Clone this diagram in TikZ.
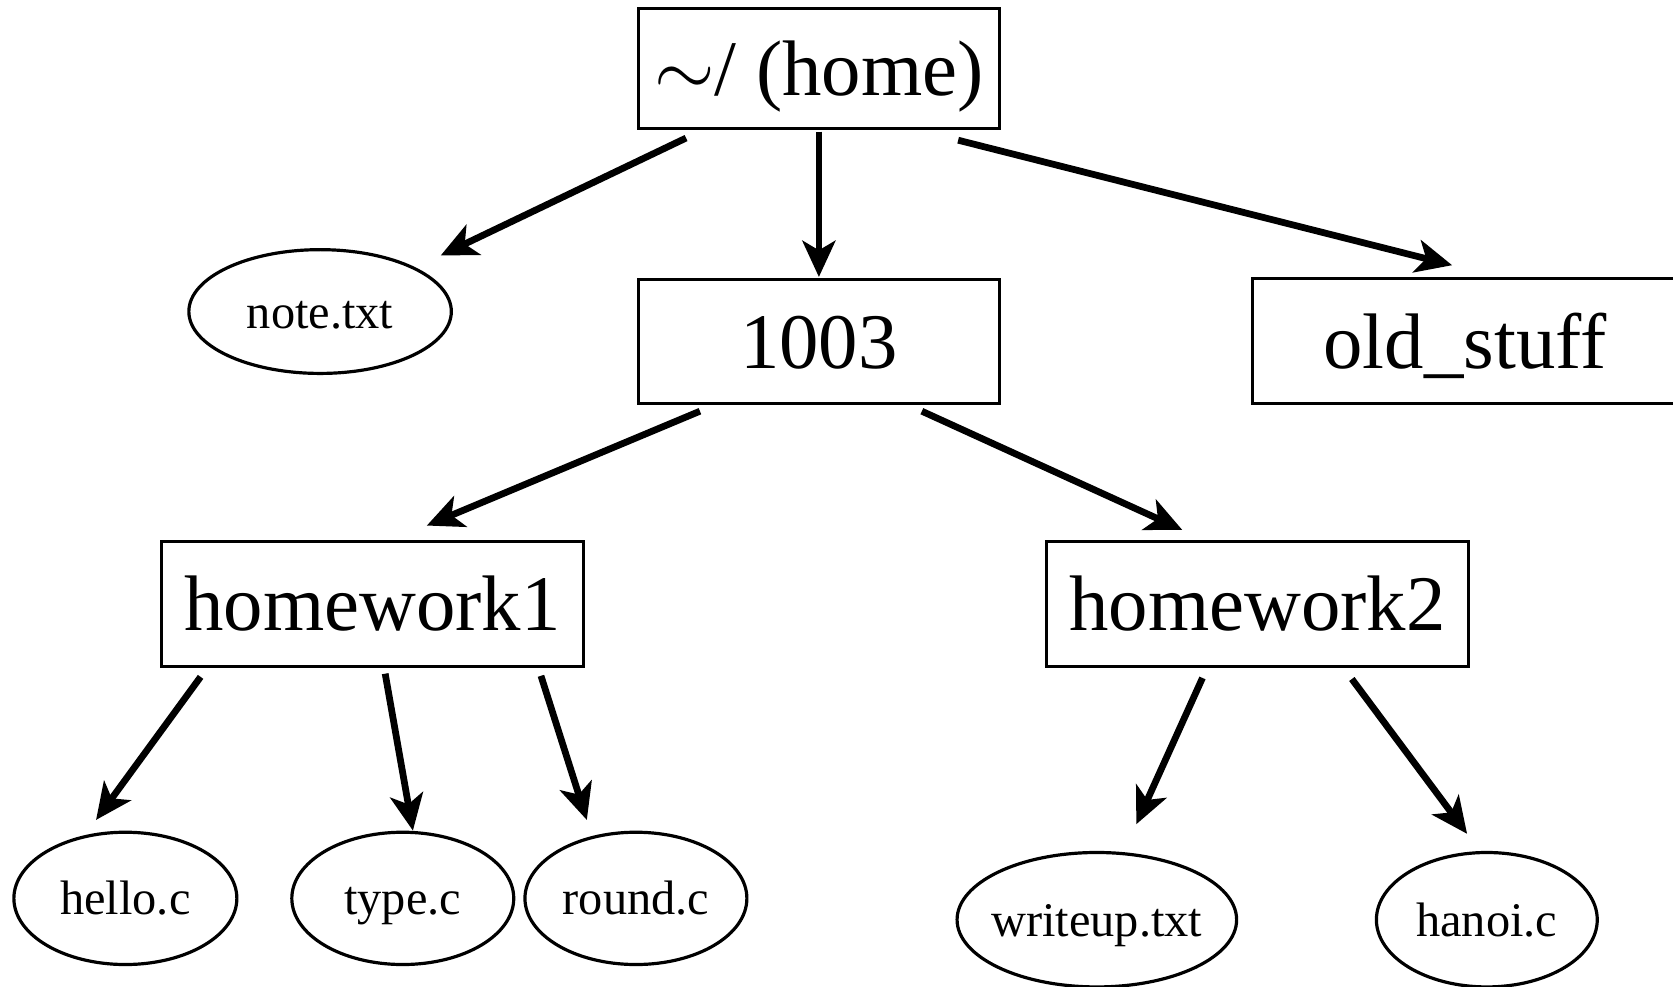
\documentclass[tikz,border=0pt]{standalone}
\usepackage{fontspec}
\setmainfont{Liberation Serif}
\usetikzlibrary{shapes.geometric}
\usetikzlibrary{arrows.meta}

\begin{document}
\begin{tikzpicture}
\tikzset{dir/.style = {rectangle, draw, line width=.8pt, inner sep=0pt, minimum height=1.16cm,
                       text height=14.3pt, text depth=0pt, font=\fontsize{21}{24}\selectfont}}
\tikzset{file/.style = {ellipse, draw, line width=.85pt, inner xsep=-4pt, inner ysep=0pt,
                        minimum height=1.24cm, text height=8.8pt, text depth=0pt,
                        font=\fontsize{12.9}{15}\selectfont}}
\tikzset{edge/.style = {-{Stealth[length=3.4mm, width=3.1mm, inset=.9mm]}, line width=1.8pt}}

   \useasboundingbox (0,0) rectangle (15.68,-9.25);
   \clip (0,0) rectangle (15.68,-9.25);

   % directories
   \node[dir, minimum width=3.39cm, minimum height=1.12cm] (home) at (7.675,-0.64) {$\sim$/ (home)};
   \node[dir, minimum width=3.39cm] (d1003) at (7.675,-3.20) {1003};
   \node[dir, minimum width=3.98cm, minimum height=1.17cm] (old) at (13.73,-3.20) {old\_stuff};
   \node[dir, minimum width=3.96cm, minimum height=1.17cm] (hw1) at (3.49,-5.66) {homework1};
   \node[dir, minimum width=3.96cm, minimum height=1.17cm] (hw2) at (11.785,-5.66) {homework2};

   % files
   \node[file, minimum width=2.46cm, minimum height=1.16cm] (note) at (3.00,-2.92) {note.txt};
   \node[file, minimum width=2.09cm] (hello) at (1.175,-8.42) {hello.c};
   \node[file, minimum width=2.08cm] (type) at (3.775,-8.42) {type.c};
   \node[file, minimum width=2.08cm] (round) at (5.96,-8.42) {round.c};
   \node[file, minimum width=2.62cm, minimum height=1.26cm] (writeup) at (10.28,-8.62) {writeup.txt};
   \node[file, minimum width=2.07cm, minimum height=1.26cm] (hanoi) at (13.935,-8.62) {hanoi.c};

   % home
   \draw[edge] ([shift={(-1.245,-.08)}]home.south) -- ([shift={(1.13,-.07)}]note.north);
   \draw[edge, line width=1.5pt] ([yshift=-.02cm]home.south) -- ([yshift=.01cm]d1003.north);
   \draw[edge] ([shift={(1.305,-.10)}]home.south) -- ([shift={(-.12,.115)}]old.north);

   % 1003
   \draw[edge] ([shift={(-1.115,-.06)}]d1003.south) -- ([shift={(.51,.135)}]hw1.north);
   \draw[edge] ([shift={(.965,-.06)}]d1003.south) -- ([shift={(-.705,.095)}]hw2.north);

   % homework1
   \draw[edge] ([shift={(-1.61,-.085)}]hw1.south) -- ([shift={(-.275,.10)}]hello.north);
   \draw[edge] ([shift={(.12,-.055)}]hw1.south) -- ([shift={(.095,0)}]type.north);
   \draw[edge] ([shift={(1.58,-.075)}]hw1.south) -- ([shift={(-.46,.10)}]round.north);

   % homework2
   \draw[edge] ([shift={(-.515,-.095)}]hw2.south) -- ([shift={(.37,.25)}]writeup.north);
   \draw[edge] ([shift={(.885,-.105)}]hw2.south) -- ([shift={(-.185,.16)}]hanoi.north);

\end{tikzpicture}
\end{document}
